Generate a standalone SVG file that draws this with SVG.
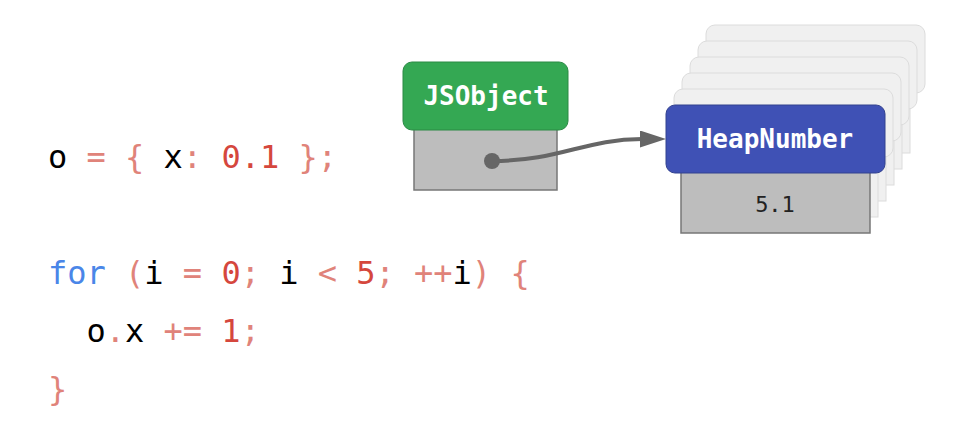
<svg xmlns="http://www.w3.org/2000/svg" width="960" height="432" viewBox="0 0 960 432">
<defs>
<style>
.code{font-family:"DejaVu Sans Mono","Liberation Mono",monospace;font-size:32px;fill:#000}
.op{fill:#e0837a}
.num{fill:#d5473d}
.kw{fill:#4a86e8}
.label{font-family:"DejaVu Sans Mono","Liberation Mono",monospace;font-size:26px;font-weight:bold;fill:#fff;text-anchor:middle}
.val{font-family:"DejaVu Sans Mono","Liberation Mono",monospace;font-size:22px;fill:#222;text-anchor:middle}
.body{fill:#bdbdbd;stroke:#777;stroke-width:1.5}
.page{fill:#f0f0f0;stroke:#dcdcdc;stroke-width:1}
</style>
<marker id="head" viewBox="0 0 26 17" refX="2" refY="8.5" markerWidth="26" markerHeight="17" markerUnits="userSpaceOnUse" orient="auto">
<path d="M0,0 L26,8.5 L0,17 z" fill="#666"/>
</marker>
</defs>
<rect width="960" height="432" fill="#fff"/>
<g id="code" class="code" xml:space="preserve">
<text x="48" y="168">o<tspan class="op"> = { </tspan>x<tspan class="op">: </tspan><tspan class="num">0.1</tspan><tspan class="op"> };</tspan></text>
<text x="48" y="284"><tspan class="kw">for</tspan><tspan class="op"> (</tspan>i<tspan class="op"> = </tspan><tspan class="num">0</tspan><tspan class="op">; </tspan>i<tspan class="op"> &lt; </tspan><tspan class="num">5</tspan><tspan class="op">; ++</tspan>i<tspan class="op">) {</tspan></text>
<text x="86.5" y="342">o<tspan class="op">.</tspan>x<tspan class="op"> += </tspan><tspan class="num">1</tspan><tspan class="op">;</tspan></text>
<text x="48" y="400"><tspan class="op">}</tspan></text>
</g>
<g id="heapnumber-stack">
<g transform="translate(40,-80)"><rect class="page" x="681" y="173" width="189" height="60"/><rect class="page" x="666" y="105" width="219" height="68" rx="9"/></g>
<g transform="translate(32,-64)"><rect class="page" x="681" y="173" width="189" height="60"/><rect class="page" x="666" y="105" width="219" height="68" rx="9"/></g>
<g transform="translate(24,-48)"><rect class="page" x="681" y="173" width="189" height="60"/><rect class="page" x="666" y="105" width="219" height="68" rx="9"/></g>
<g transform="translate(16,-32)"><rect class="page" x="681" y="173" width="189" height="60"/><rect class="page" x="666" y="105" width="219" height="68" rx="9"/></g>
<g transform="translate(8,-16)"><rect class="page" x="681" y="173" width="189" height="60"/><rect class="page" x="666" y="105" width="219" height="68" rx="9"/></g>
</g>
<g id="jsobject">
<rect class="body" x="414" y="128" width="143" height="62"/>
<rect x="403" y="62" width="165" height="68" rx="9" fill="#34a853" stroke="#2b8a45" stroke-width="1"/>
<text class="label" x="486" y="105">JSObject</text>
</g>
<g id="heapnumber">
<rect class="body" x="681" y="171" width="189" height="62"/>
<rect x="666" y="105" width="219" height="68" rx="9" fill="#3f51b5" stroke="#33428f" stroke-width="1"/>
<text class="label" x="775" y="148">HeapNumber</text>
<text class="val" x="775" y="212">5.1</text>
</g>
<g id="connectors">
<circle cx="492" cy="161" r="8" fill="#666"/>
<path d="M492,161 C560,161 585,139 642,139" fill="none" stroke="#666" stroke-width="4" marker-end="url(#head)"/>
</g>
</svg>
